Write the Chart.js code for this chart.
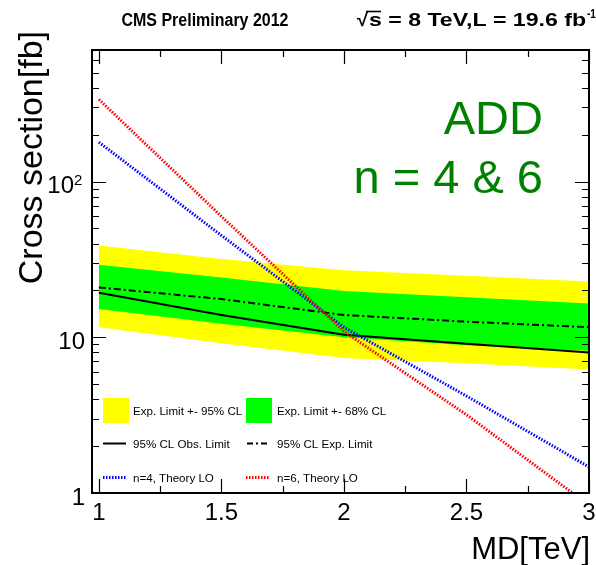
<!DOCTYPE html>
<html>
<head>
<meta charset="utf-8">
<script src="https://cdn.jsdelivr.net/npm/chart.js@4/dist/chart.umd.min.js"></script>
<style>
    html, body { margin: 0; padding: 0; background: #fff; }
    canvas { display: block; }
</style>
</head>
<body>
<canvas id="limitChart" width="596" height="565"></canvas>
<script>
// MD points (TeV) and limits / cross sections in fb
const mdValues = [1, 1.5, 2, 2.5, 3];
const obsLimit = [19.3, 13.9, 10.4, 9.1, 8.0];
const expLimit = [20.9, 17.6, 13.9, 12.6, 11.6];
const exp68Up = [29.2, 24.2, 19.8, 18.1, 16.5];
const exp68Down = [15.2, 12.2, 10.0, 8.9, 8.2];
const exp95Up = [38.8, 31.8, 27.0, 24.8, 22.8];
const exp95Down = [11.6, 9.15, 7.35, 6.8, 6.2];
const theoryN4 = [179, 45.1, 11.6, 4.2, 1.47];
const theoryN6 = [337, 59.8, 10.9, 3.18, 0.835];

// axis ticks
const xMajorTicks = [1, 1.5, 2, 2.5, 3];
const xTickLabels = ['1', '1.5', '2', '2.5', '3'];
const xMinorTicks = [1.25, 1.75, 2.25, 2.75];
const yMajorTicks = [1, 10, 100];
const yTickLabels = ['1', '10', '10'];
const yTickExponents = ['', '', '2'];
const yMinorTicks = [2, 3, 4, 5, 6, 7, 8, 9, 20, 30, 40, 50, 60, 70, 80, 90, 200, 300, 400, 500, 600, 700];

const FONT = '"Liberation Sans", Arial, Helvetica, sans-serif';
const YELLOW = '#ffff00';
const GREEN = '#00ff00';

function toPoints(values) {
    return mdValues.map((md, i) => ({ x: md, y: values[i] }));
}

function fitText(ctx, text, x, y, width) {
    const w = ctx.measureText(text).width;
    ctx.save();
    ctx.translate(x, y);
    ctx.scale(width / w, 1);
    ctx.fillText(text, 0, 0);
    ctx.restore();
}

const decorations = {
    id: 'decorations',
    afterDatasetsDraw(chart) {
        const { ctx, chartArea: a, scales: { x, y } } = chart;
        ctx.save();

        // legend inside the frame
        ctx.fillStyle = YELLOW;
        ctx.fillRect(103, 398, 26, 25);
        ctx.fillStyle = GREEN;
        ctx.fillRect(246, 398, 26, 25);

        ctx.lineWidth = 2;
        ctx.strokeStyle = '#000';
        ctx.beginPath(); ctx.moveTo(103, 443.5); ctx.lineTo(126, 443.5); ctx.stroke();
        ctx.setLineDash([6, 3, 2, 3]);
        ctx.beginPath(); ctx.moveTo(247, 443.5); ctx.lineTo(270, 443.5); ctx.stroke();
        ctx.lineWidth = 3;
        ctx.setLineDash([1.5, 1.5]);
        ctx.strokeStyle = '#0000ff';
        ctx.beginPath(); ctx.moveTo(103, 477.5); ctx.lineTo(127, 477.5); ctx.stroke();
        ctx.strokeStyle = '#ff0000';
        ctx.beginPath(); ctx.moveTo(246, 477.5); ctx.lineTo(270, 477.5); ctx.stroke();
        ctx.setLineDash([]);

        ctx.fillStyle = '#000';
        ctx.font = '11.6px ' + FONT;
        ctx.textAlign = 'left';
        ctx.textBaseline = 'alphabetic';
        ctx.fillText('Exp. Limit +- 95% CL', 133, 414.5);
        ctx.fillText('Exp. Limit +- 68% CL', 277, 414.5);
        ctx.fillText('95% CL Obs. Limit', 133, 448);
        ctx.fillText('95% CL Exp. Limit', 277, 448);
        ctx.fillText('n=4, Theory LO', 133, 481.5);
        ctx.fillText('n=6, Theory LO', 277, 481.5);

        // frame
        ctx.strokeStyle = '#000';
        ctx.lineWidth = 2;
        ctx.strokeRect(a.left, a.top, a.right - a.left, a.bottom - a.top);

        // ticks on all four sides, pointing inwards
        ctx.lineWidth = 1.2;
        const xTick = (v, len) => {
            const px = Math.round(x.getPixelForValue(v)) + 0.5;
            ctx.beginPath();
            ctx.moveTo(px, a.bottom); ctx.lineTo(px, a.bottom - len);
            ctx.moveTo(px, a.top); ctx.lineTo(px, a.top + len);
            ctx.stroke();
        };
        const yTick = (v, len) => {
            const py = Math.round(y.getPixelForValue(v)) + 0.5;
            ctx.beginPath();
            ctx.moveTo(a.left, py); ctx.lineTo(a.left + len, py);
            ctx.moveTo(a.right, py); ctx.lineTo(a.right - len, py);
            ctx.stroke();
        };
        xMajorTicks.forEach(v => xTick(v, 14));
        xMinorTicks.forEach(v => xTick(v, 7));
        yMajorTicks.forEach(v => yTick(v, 14));
        yMinorTicks.forEach(v => yTick(v, 7));

        // tick labels
        ctx.fillStyle = '#000';
        ctx.font = '24px ' + FONT;
        ctx.textAlign = 'center';
        xMajorTicks.forEach((v, i) => {
            ctx.fillText(xTickLabels[i], x.getPixelForValue(v), 520);
        });
        yMajorTicks.forEach((v, i) => {
            const py = y.getPixelForValue(v) + 11.5;
            if (yTickExponents[i]) {
                ctx.textAlign = 'right';
                ctx.font = '24px ' + FONT;
                ctx.fillText(yTickLabels[i], 74, py);
                ctx.textAlign = 'left';
                ctx.font = '15px ' + FONT;
                ctx.fillText(yTickExponents[i], 74, py - 8);
            } else {
                ctx.textAlign = 'right';
                ctx.font = '24px ' + FONT;
                ctx.fillText(yTickLabels[i], 85, py);
            }
        });

        // axis titles
        ctx.font = '31px ' + FONT;
        ctx.textAlign = 'right';
        ctx.fillText('MD[TeV]', 590, 559);
        ctx.save();
        ctx.translate(42, 31);
        ctx.rotate(-Math.PI / 2);
        ctx.font = '34px ' + FONT;
        ctx.textAlign = 'right';
        ctx.fillText('Cross section[fb]', 0, 0);
        ctx.restore();

        // model label
        ctx.fillStyle = '#008000';
        ctx.font = '47px ' + FONT;
        ctx.textAlign = 'right';
        ctx.fillText('ADD', 543, 134);
        ctx.fillText('n = 4 & 6', 543, 193);

        // header
        ctx.fillStyle = '#000';
        ctx.textAlign = 'left';
        ctx.font = 'bold 18px ' + FONT;
        fitText(ctx, 'CMS Preliminary 2012', 121.5, 26, 167);
        fitText(ctx, '\u221A', 357, 26, 11);
        ctx.font = 'bold 19px ' + FONT;
        fitText(ctx, 's = 8 TeV,L = 19.6 fb', 369, 26, 217);
        ctx.lineWidth = 1.6;
        ctx.beginPath(); ctx.moveTo(366, 11.5); ctx.lineTo(381, 11.5); ctx.stroke();
        ctx.font = 'bold 12px ' + FONT;
        fitText(ctx, '-1', 587, 18, 9);

        ctx.restore();
    }
};

const lineDataset = (label, values, color, width, dash) => ({
    label: label,
    data: toPoints(values),
    borderColor: color,
    borderWidth: width,
    borderDash: dash,
    pointRadius: 0,
    tension: 0,
    fill: false
});

const bandDataset = (label, values, color, fill) => ({
    label: label,
    data: toPoints(values),
    borderColor: 'transparent',
    borderWidth: 0,
    backgroundColor: color,
    pointRadius: 0,
    tension: 0,
    fill: fill
});

new Chart(document.getElementById('limitChart'), {
    type: 'line',
    data: {
        datasets: [
            lineDataset('n=6, Theory LO', theoryN6, '#ff0000', 3, [1.5, 1.5]),
            lineDataset('n=4, Theory LO', theoryN4, '#0000ff', 3, [1.5, 1.5]),
            lineDataset('95% CL Obs. Limit', obsLimit, '#000', 2, []),
            lineDataset('95% CL Exp. Limit', expLimit, '#000', 2, [7, 3, 2, 3]),
            bandDataset('Exp. Limit +- 68% CL', exp68Up, GREEN, '+1'),
            bandDataset('68% low', exp68Down, GREEN, false),
            bandDataset('Exp. Limit +- 95% CL', exp95Up, YELLOW, '+1'),
            bandDataset('95% low', exp95Down, YELLOW, false)
        ]
    },
    options: {
        responsive: false,
        animation: false,
        layout: { padding: { left: 92, top: 50, right: 7, bottom: 72 } },
        plugins: {
            legend: { display: false },
            tooltip: { enabled: false }
        },
        scales: {
            x: { type: 'linear', min: 0.972, max: 3, display: false },
            y: { type: 'logarithmic', min: 1, max: 700, display: false }
        }
    },
    plugins: [decorations]
});
</script>
</body>
</html>
